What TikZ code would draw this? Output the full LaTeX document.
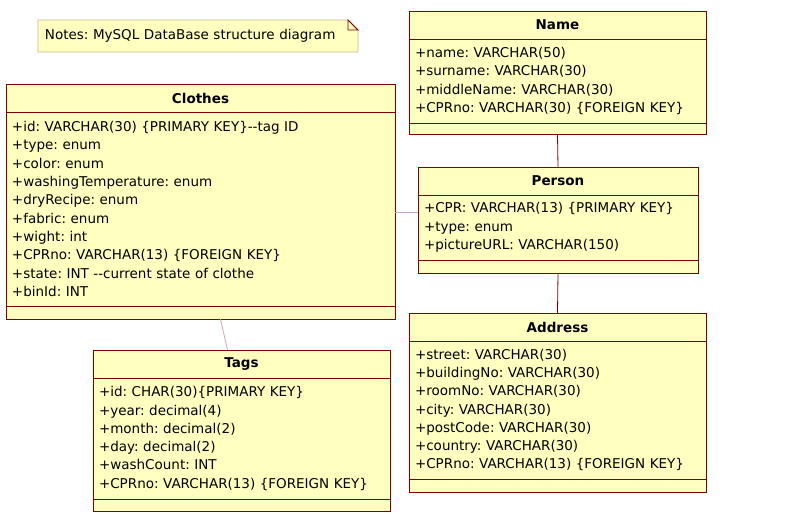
\documentclass[tikz,border=0pt]{standalone}
\usepackage{fontspec}
\setmainfont{DejaVu Sans}[Ligatures=TeXOff]
\usepackage{tikz}
\usetikzlibrary{positioning,backgrounds}
\definecolor{umlfill}{RGB}{255,255,192}
\definecolor{umlline}{RGB}{128,0,0}
\definecolor{noteline}{RGB}{204,178,140}
\definecolor{faintline}{RGB}{205,165,175}
\frenchspacing

\begin{document}
\begin{tikzpicture}[
    x=1pt, y=-1pt,
    node distance=0pt,
    every node/.style={font=\fontsize{13.5}{18.3}\selectfont},
    head/.style={draw=umlline, fill=umlfill, line width=0.8pt, inner sep=0pt, outer sep=0pt, minimum height=28pt, font=\fontsize{13.5}{18.3}\selectfont\bfseries},
    fields/.style={draw=umlline, fill=umlfill, line width=0.8pt, align=left, inner xsep=6pt, inner ysep=0pt, outer sep=0pt},
    ops/.style={draw=umlline, fill=umlfill, line width=0.8pt, inner sep=0pt, outer sep=0pt},
    note/.style={inner xsep=7pt, inner ysep=0pt, outer sep=0pt, minimum width=320pt, minimum height=32pt, text width=306pt, align=left},
    assoc/.style={draw=umlline, line width=0.8pt},
    weak/.style={draw=faintline, line width=0.8pt}
]
\useasboundingbox (0,0) rectangle (793,519);

\node[note, anchor=north west] (memo) at (38,20) {Notes: MySQL DataBase structure diagram};
\begin{scope}[on background layer]
\draw[fill=umlfill, draw=noteline, line width=0.8pt] (memo.north west) -- ([xshift=-10pt]memo.north east) -- ([yshift=-10pt]memo.north east) -- (memo.south east) -- (memo.south west) -- cycle;
\end{scope}
\draw[umlline, line width=0.8pt] ([xshift=-10pt]memo.north east) -- ([xshift=-10pt, yshift=-10pt]memo.north east) -- ([yshift=-10pt]memo.north east) -- cycle;

\node[head, minimum width=389pt, anchor=north west] (clothes) at (6,84) {Clothes};
\node[fields, text width=377pt, minimum height=194pt, below=of clothes] (clothes-fields) {
+id: VARCHAR(30) \{PRIMARY KEY\}--tag ID\\
+type: enum\\
+color: enum\\
+washingTemperature: enum\\
+dryRecipe: enum\\
+fabric: enum\\
+wight: int\\
+CPRno: VARCHAR(13) \{FOREIGN KEY\}\\
+state: INT --current state of clothe\\
+binId: INT};
\node[ops, minimum width=389pt, minimum height=13pt, below=of clothes-fields] (clothes-ops) {};

\node[head, minimum width=297pt, anchor=north west] (tags) at (93,350) {Tags};
\node[fields, text width=285pt, minimum height=121pt, below=of tags] (tags-fields) {
+id: CHAR(30)\{PRIMARY KEY\}\\
+year: decimal(4)\\
+month: decimal(2)\\
+day: decimal(2)\\
+washCount: INT\\
+CPRno: VARCHAR(13) \{FOREIGN KEY\}};
\node[ops, minimum width=297pt, minimum height=12pt, below=of tags-fields] (tags-ops) {};

\node[head, minimum width=297pt, anchor=north west] (name) at (409,11) {Name};
\node[fields, text width=285pt, minimum height=84pt, below=of name] (name-fields) {
+name: VARCHAR(50)\\
+surname: VARCHAR(30)\\
+middleName: VARCHAR(30)\\
+CPRno: VARCHAR(30) \{FOREIGN KEY\}};
\node[ops, minimum width=297pt, minimum height=11pt, below=of name-fields] (name-ops) {};

\node[head, minimum width=280pt, anchor=north west] (person) at (418,167) {Person};
\node[fields, text width=268pt, minimum height=65pt, below=of person] (person-fields) {
+CPR: VARCHAR(13) \{PRIMARY KEY\}\\
+type: enum\\
+pictureURL: VARCHAR(150)};
\node[ops, minimum width=280pt, minimum height=13pt, below=of person-fields] (person-ops) {};

\node[head, minimum width=297pt, anchor=north west] (address) at (409,313) {Address};
\node[fields, text width=285pt, minimum height=138pt, below=of address] (address-fields) {
+street: VARCHAR(30)\\
+buildingNo: VARCHAR(30)\\
+roomNo: VARCHAR(30)\\
+city: VARCHAR(30)\\
+postCode: VARCHAR(30)\\
+country: VARCHAR(30)\\
+CPRno: VARCHAR(13) \{FOREIGN KEY\}};
\node[ops, minimum width=297pt, minimum height=13pt, below=of address-fields] (address-ops) {};

\draw[assoc] (name-ops.south) -- (person.north);
\draw[assoc] (person-ops.south) -- (address.north);
\draw[weak] ([yshift=-3pt]clothes-fields.east) -- ([yshift=-3pt]clothes-fields.east -| person-fields.west);
\draw[weak] ([xshift=20pt]clothes-ops.south) -- ([xshift=-14pt]tags.north);

\end{tikzpicture}
\end{document}
